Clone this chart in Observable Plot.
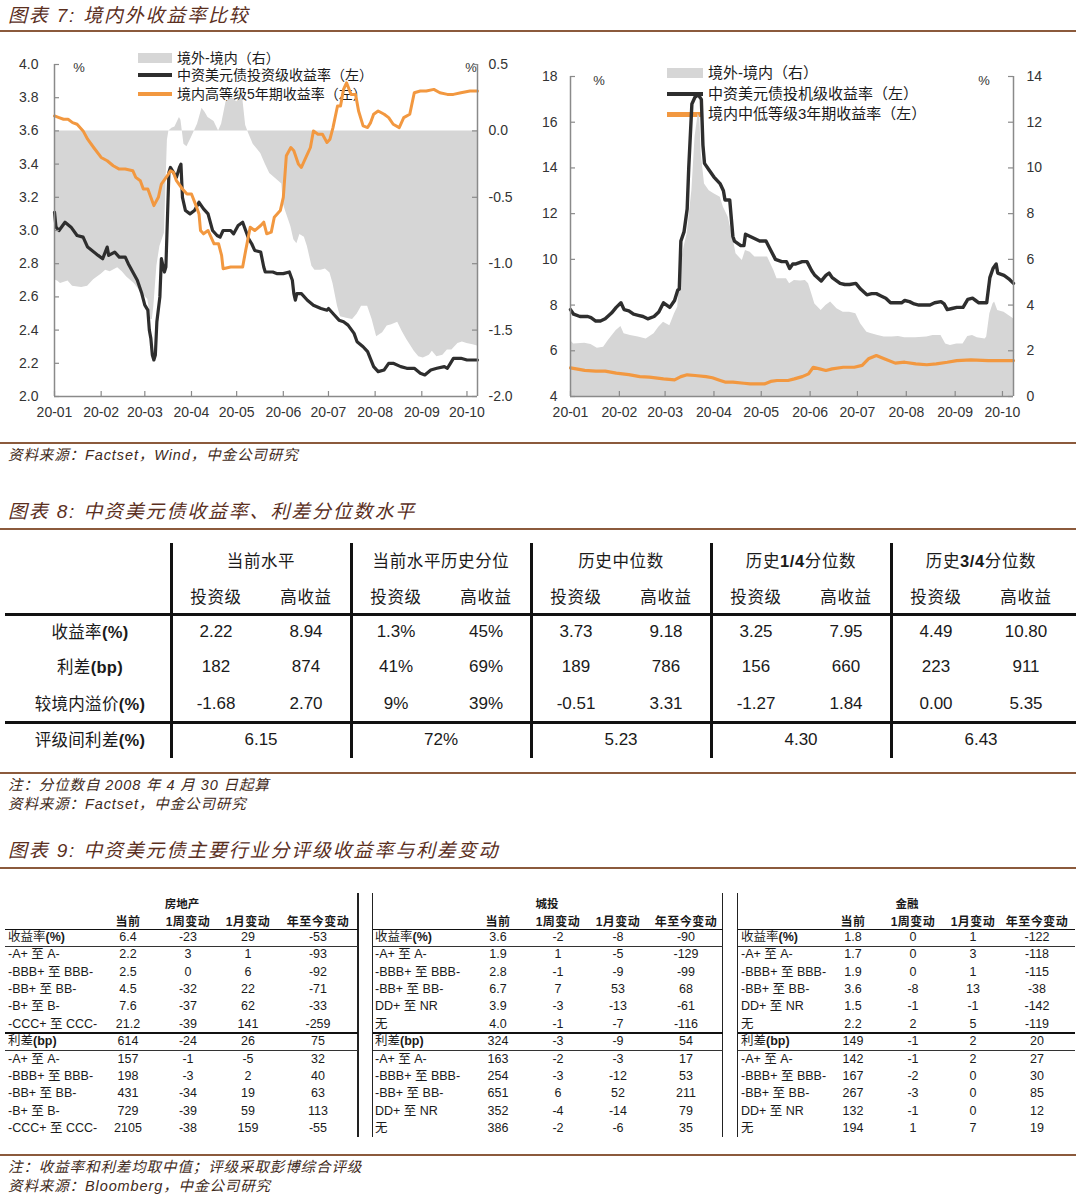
<!DOCTYPE html>
<html lang="zh">
<head>
<meta charset="utf-8">
<script src="https://cdn.jsdelivr.net/npm/d3@7"></script>
<script src="https://cdn.jsdelivr.net/npm/@observablehq/plot@0.6"></script>
<style>
html,body{margin:0;padding:0;background:#fff;}
#page{position:relative;width:1080px;height:1201px;overflow:hidden;background:#fff;font-family:"Liberation Sans",Arial,"Noto Sans CJK SC",sans-serif;color:#1a1a1a;}
.t{position:absolute;white-space:nowrap;}
.r{position:absolute;}
.chart{position:absolute;}
</style>
</head>
<body>
<div id="page"></div>
<script>
// ---------------- DATA ----------------
// Chart 7 (left): 中资美元债投资级收益率 (left axis, %)
const usdIgYield = [["2020-01-01",3.11],["2020-01-02",3.02],["2020-01-04",3.00],["2020-01-08",3.05],["2020-01-12",3.02],["2020-01-16",2.97],["2020-01-20",2.96],["2020-01-23",2.90],["2020-01-30",2.85],["2020-02-02",2.83],["2020-02-05",2.90],["2020-02-06",2.85],["2020-02-10",2.87],["2020-02-13",2.84],["2020-02-17",2.84],["2020-02-19",2.80],["2020-02-25",2.70],["2020-02-28",2.62],["2020-03-01",2.55],["2020-03-03",2.52],["2020-03-04",2.40],["2020-03-05",2.35],["2020-03-06",2.25],["2020-03-07",2.22],["2020-03-08",2.25],["2020-03-09",2.45],["2020-03-11",2.60],["2020-03-12",2.83],["2020-03-14",2.75],["2020-03-15",2.78],["2020-03-17",3.35],["2020-03-18",3.38],["2020-03-20",3.35],["2020-03-22",3.32],["2020-03-24",3.38],["2020-03-25",3.40],["2020-03-26",3.20],["2020-03-28",3.12],["2020-03-31",3.10],["2020-04-03",3.12],["2020-04-06",3.17],["2020-04-09",3.13],["2020-04-12",3.10],["2020-04-15",3.00],["2020-04-18",2.97],["2020-04-20",2.96],["2020-04-22",3.00],["2020-04-27",3.00],["2020-04-29",2.98],["2020-05-02",3.03],["2020-05-05",3.05],["2020-05-07",3.00],["2020-05-09",2.95],["2020-05-11",2.92],["2020-05-13",2.88],["2020-05-17",2.87],["2020-05-19",2.78],["2020-05-20",2.75],["2020-05-25",2.75],["2020-05-28",2.74],["2020-06-01",2.74],["2020-06-05",2.75],["2020-06-07",2.70],["2020-06-08",2.62],["2020-06-09",2.58],["2020-06-10",2.62],["2020-06-13",2.62],["2020-06-17",2.58],["2020-06-21",2.55],["2020-06-26",2.53],["2020-06-30",2.52],["2020-07-01",2.53],["2020-07-04",2.50],["2020-07-08",2.46],["2020-07-11",2.45],["2020-07-14",2.43],["2020-07-18",2.38],["2020-07-20",2.33],["2020-07-24",2.30],["2020-07-27",2.27],["2020-07-31",2.18],["2020-08-03",2.15],["2020-08-07",2.16],["2020-08-10",2.20],["2020-08-13",2.20],["2020-08-18",2.18],["2020-08-22",2.17],["2020-08-27",2.17],["2020-08-31",2.14],["2020-09-03",2.13],["2020-09-07",2.16],["2020-09-11",2.17],["2020-09-16",2.18],["2020-09-18",2.17],["2020-09-20",2.20],["2020-09-22",2.23],["2020-09-27",2.23],["2020-10-01",2.22],["2020-10-08",2.22]];
// 境内高等级5年期收益率 (left axis, %)
const cnHighGrade5y = [["2020-01-01",3.69],["2020-01-04",3.68],["2020-01-07",3.67],["2020-01-10",3.67],["2020-01-13",3.65],["2020-01-16",3.64],["2020-01-20",3.60],["2020-01-23",3.55],["2020-01-27",3.50],["2020-02-01",3.44],["2020-02-05",3.42],["2020-02-09",3.39],["2020-02-13",3.37],["2020-02-17",3.37],["2020-02-22",3.36],["2020-02-24",3.32],["2020-02-27",3.30],["2020-02-29",3.25],["2020-03-03",3.25],["2020-03-05",3.20],["2020-03-07",3.15],["2020-03-10",3.20],["2020-03-12",3.28],["2020-03-16",3.33],["2020-03-18",3.36],["2020-03-20",3.35],["2020-03-22",3.30],["2020-03-26",3.25],["2020-03-29",3.22],["2020-04-01",3.22],["2020-04-04",3.15],["2020-04-06",3.10],["2020-04-07",3.00],["2020-04-09",2.98],["2020-04-12",3.00],["2020-04-16",2.92],["2020-04-19",2.92],["2020-04-21",2.85],["2020-04-22",2.77],["2020-04-27",2.78],["2020-05-01",2.78],["2020-05-05",2.78],["2020-05-07",2.88],["2020-05-10",3.02],["2020-05-13",3.00],["2020-05-17",3.03],["2020-05-19",3.05],["2020-05-21",2.98],["2020-05-24",2.99],["2020-05-26",3.08],["2020-05-30",3.12],["2020-06-01",3.20],["2020-06-03",3.45],["2020-06-06",3.50],["2020-06-08",3.48],["2020-06-11",3.40],["2020-06-13",3.38],["2020-06-16",3.44],["2020-06-19",3.50],["2020-06-21",3.60],["2020-06-24",3.58],["2020-06-27",3.58],["2020-06-30",3.53],["2020-07-02",3.55],["2020-07-04",3.62],["2020-07-07",3.75],["2020-07-09",3.75],["2020-07-11",3.85],["2020-07-13",3.89],["2020-07-16",3.82],["2020-07-19",3.82],["2020-07-21",3.72],["2020-07-24",3.63],["2020-07-27",3.62],["2020-07-29",3.65],["2020-07-31",3.70],["2020-08-03",3.72],["2020-08-07",3.70],["2020-08-10",3.68],["2020-08-13",3.64],["2020-08-17",3.62],["2020-08-20",3.68],["2020-08-24",3.70],["2020-08-27",3.83],["2020-08-31",3.84],["2020-09-04",3.84],["2020-09-09",3.85],["2020-09-13",3.83],["2020-09-18",3.82],["2020-09-22",3.82],["2020-09-27",3.83],["2020-10-03",3.84],["2020-10-08",3.84]];
// 境外-境内 (right axis, %)
const igGap = [["2020-01-01",-1.12],["2020-01-03",-1.13],["2020-01-05",-1.15],["2020-01-10",-1.13],["2020-01-13",-1.17],["2020-01-19",-1.18],["2020-01-23",-1.17],["2020-01-27",-1.12],["2020-02-01",-1.08],["2020-02-04",-1.05],["2020-02-07",-1.06],["2020-02-12",-1.03],["2020-02-15",-1.06],["2020-02-18",-1.10],["2020-02-23",-1.15],["2020-02-27",-1.21],["2020-03-03",-1.27],["2020-03-05",-1.42],["2020-03-06",-1.42],["2020-03-07",-1.32],["2020-03-09",-1.02],["2020-03-11",-0.87],["2020-03-14",-0.77],["2020-03-16",-0.07],["2020-03-17",0.00],["2020-03-19",0.02],["2020-03-21",0.03],["2020-03-24",0.10],["2020-03-25",0.08],["2020-03-27",-0.10],["2020-03-29",-0.12],["2020-04-01",-0.05],["2020-04-05",0.05],["2020-04-08",0.17],["2020-04-10",0.14],["2020-04-12",0.10],["2020-04-16",0.07],["2020-04-19",0.00],["2020-04-21",0.05],["2020-04-24",0.22],["2020-04-28",0.25],["2020-05-01",0.22],["2020-05-05",0.25],["2020-05-07",0.04],["2020-05-09",-0.02],["2020-05-12",-0.10],["2020-05-17",-0.17],["2020-05-20",-0.25],["2020-05-23",-0.32],["2020-05-28",-0.37],["2020-05-31",-0.40],["2020-06-01",-0.55],["2020-06-03",-0.62],["2020-06-06",-0.72],["2020-06-08",-0.82],["2020-06-10",-0.85],["2020-06-12",-0.78],["2020-06-15",-0.80],["2020-06-17",-0.87],["2020-06-20",-1.02],["2020-06-22",-1.05],["2020-06-26",-1.05],["2020-06-29",-1.04],["2020-07-02",-1.07],["2020-07-04",-1.15],["2020-07-07",-1.32],["2020-07-09",-1.40],["2020-07-13",-1.41],["2020-07-17",-1.42],["2020-07-20",-1.38],["2020-07-23",-1.32],["2020-07-27",-1.32],["2020-07-30",-1.42],["2020-08-02",-1.55],["2020-08-06",-1.52],["2020-08-09",-1.47],["2020-08-12",-1.46],["2020-08-16",-1.44],["2020-08-19",-1.51],["2020-08-22",-1.57],["2020-08-27",-1.66],["2020-08-30",-1.70],["2020-09-02",-1.71],["2020-09-06",-1.69],["2020-09-08",-1.66],["2020-09-11",-1.70],["2020-09-15",-1.69],["2020-09-18",-1.65],["2020-09-21",-1.65],["2020-09-25",-1.60],["2020-09-28",-1.59],["2020-10-01",-1.60],["2020-10-05",-1.61],["2020-10-08",-1.62]];

// Chart 7 (right): 中资美元债投机级收益率 (left axis, %)
const usdHyYield = [["2020-01-01",7.8],["2020-01-03",7.6],["2020-01-07",7.5],["2020-01-12",7.5],["2020-01-14",7.45],["2020-01-17",7.3],["2020-01-20",7.3],["2020-01-23",7.4],["2020-01-27",7.65],["2020-01-30",7.9],["2020-02-02",8.1],["2020-02-04",7.8],["2020-02-07",7.75],["2020-02-10",7.6],["2020-02-13",7.55],["2020-02-16",7.5],["2020-02-19",7.4],["2020-02-23",7.5],["2020-02-26",7.7],["2020-02-29",8.1],["2020-03-02",8.0],["2020-03-04",7.9],["2020-03-07",8.2],["2020-03-09",8.65],["2020-03-10",8.7],["2020-03-11",10.8],["2020-03-13",11.2],["2020-03-15",12.2],["2020-03-16",14.0],["2020-03-18",16.8],["2020-03-20",17.1],["2020-03-22",17.2],["2020-03-24",17.0],["2020-03-25",15.0],["2020-03-26",14.2],["2020-03-29",13.9],["2020-04-01",13.6],["2020-04-05",13.3],["2020-04-07",13.0],["2020-04-08",12.6],["2020-04-11",12.6],["2020-04-13",11.0],["2020-04-14",10.8],["2020-04-18",10.6],["2020-04-20",10.6],["2020-04-21",11.1],["2020-04-24",11.0],["2020-04-27",10.9],["2020-04-30",10.8],["2020-05-04",10.8],["2020-05-07",10.4],["2020-05-10",10.0],["2020-05-14",9.9],["2020-05-17",9.9],["2020-05-19",9.6],["2020-05-21",9.8],["2020-05-23",9.8],["2020-05-27",9.9],["2020-05-30",9.9],["2020-06-02",9.5],["2020-06-04",9.3],["2020-06-08",9.05],["2020-06-11",9.3],["2020-06-13",9.4],["2020-06-15",9.2],["2020-06-20",8.95],["2020-06-23",8.9],["2020-06-26",8.9],["2020-06-30",8.95],["2020-07-03",8.7],["2020-07-07",8.45],["2020-07-10",8.5],["2020-07-13",8.5],["2020-07-16",8.4],["2020-07-19",8.3],["2020-07-22",8.1],["2020-07-26",8.1],["2020-07-29",8.1],["2020-07-31",8.2],["2020-08-03",8.15],["2020-08-06",8.05],["2020-08-09",8.0],["2020-08-13",8.0],["2020-08-16",8.0],["2020-08-19",8.1],["2020-08-23",8.15],["2020-08-25",8.05],["2020-08-27",7.8],["2020-08-30",7.85],["2020-09-02",7.9],["2020-09-06",7.9],["2020-09-09",8.25],["2020-09-12",8.3],["2020-09-14",8.2],["2020-09-16",8.1],["2020-09-21",8.1],["2020-09-23",9.2],["2020-09-25",9.6],["2020-09-27",9.8],["2020-09-28",9.4],["2020-10-02",9.3],["2020-10-05",9.15],["2020-10-08",8.95]];
// 境内中低等级3年期收益率 (left axis, %)
const cnLowGrade3y = [["2020-01-01",5.25],["2020-01-10",5.14],["2020-01-17",5.11],["2020-01-23",5.11],["2020-01-30",5.02],["2020-02-07",4.96],["2020-02-14",4.87],["2020-02-20",4.85],["2020-02-29",4.77],["2020-03-07",4.73],["2020-03-11",4.87],["2020-03-15",4.95],["2020-03-20",4.92],["2020-03-27",4.87],["2020-03-31",4.82],["2020-04-05",4.70],["2020-04-08",4.63],["2020-04-13",4.63],["2020-04-20",4.58],["2020-04-24",4.55],["2020-05-03",4.55],["2020-05-07",4.66],["2020-05-11",4.70],["2020-05-18",4.70],["2020-05-22",4.77],["2020-05-27",4.87],["2020-05-31",4.99],["2020-06-03",5.28],["2020-06-07",5.21],["2020-06-11",5.14],["2020-06-15",5.21],["2020-06-22",5.28],["2020-06-29",5.28],["2020-07-04",5.36],["2020-07-08",5.65],["2020-07-13",5.79],["2020-07-18",5.65],["2020-07-25",5.46],["2020-07-31",5.50],["2020-08-07",5.43],["2020-08-14",5.39],["2020-08-20",5.43],["2020-08-27",5.50],["2020-09-02",5.57],["2020-09-11",5.60],["2020-09-22",5.57],["2020-10-08",5.57]];
// 境外-境内 (right axis, %)
const hyGap = [["2020-01-01",2.45],["2020-01-03",2.30],["2020-01-10",2.33],["2020-01-14",2.27],["2020-01-18",2.11],["2020-01-22",2.16],["2020-01-25",2.45],["2020-01-30",2.89],["2020-02-02",3.06],["2020-02-04",2.74],["2020-02-08",2.67],["2020-02-13",2.60],["2020-02-18",2.52],["2020-02-23",2.74],["2020-02-26",3.03],["2020-02-29",3.25],["2020-03-04",3.10],["2020-03-07",3.62],["2020-03-09",3.91],["2020-03-11",5.80],["2020-03-13",6.53],["2020-03-15",7.12],["2020-03-18",9.01],["2020-03-20",11.35],["2020-03-22",12.37],["2020-03-23",12.20],["2020-03-24",10.60],["2020-03-26",9.30],["2020-03-29",9.00],["2020-04-01",8.87],["2020-04-05",8.72],["2020-04-07",8.28],["2020-04-10",7.85],["2020-04-11",7.56],["2020-04-13",6.97],["2020-04-15",6.24],["2020-04-19",5.95],["2020-04-21",6.39],["2020-04-24",6.31],["2020-04-27",6.10],["2020-05-01",6.10],["2020-05-05",6.10],["2020-05-09",5.51],["2020-05-11",5.15],["2020-05-15",5.15],["2020-05-17",5.15],["2020-05-19",4.93],["2020-05-22",5.08],["2020-05-26",5.05],["2020-05-29",5.08],["2020-05-31",4.93],["2020-06-02",4.49],["2020-06-04",4.05],["2020-06-08",3.76],["2020-06-11",3.98],["2020-06-14",4.13],["2020-06-18",3.84],["2020-06-22",3.69],["2020-06-26",3.69],["2020-06-30",3.62],["2020-07-03",3.18],["2020-07-07",2.81],["2020-07-10",2.74],["2020-07-14",2.67],["2020-07-18",2.60],["2020-07-23",2.60],["2020-07-27",2.63],["2020-07-31",2.57],["2020-08-07",2.57],["2020-08-14",2.60],["2020-08-18",2.67],["2020-08-23",2.67],["2020-08-26",2.30],["2020-08-29",2.23],["2020-09-02",2.30],["2020-09-06",2.30],["2020-09-09",2.63],["2020-09-12",2.67],["2020-09-15",2.57],["2020-09-20",2.52],["2020-09-21",2.60],["2020-09-23",3.62],["2020-09-25",4.05],["2020-09-26",4.13],["2020-09-28",3.76],["2020-10-02",3.69],["2020-10-05",3.54],["2020-10-08",3.40]];

// axis tick values
const leftAxis1 = [2.0,2.2,2.4,2.6,2.8,3.0,3.2,3.4,3.6,3.8,4.0];
const rightAxis1 = [-2.0,-1.5,-1.0,-0.5,0.0,0.5];
const leftAxis2 = [4,6,8,10,12,14,16,18];
const rightAxis2 = [0,2,4,6,8,10,12,14];
const legend1 = ["境外-境内（右）","中资美元债投资级收益率（左）","境内高等级5年期收益率（左）"];
const legend2 = ["境外-境内（右）","中资美元债投机级收益率（左）","境内中低等级3年期收益率（左）"];

// texts
const titles = ["图表 7:  境内外收益率比较","图表 8:  中资美元债收益率、利差分位数水平","图表 9:  中资美元债主要行业分评级收益率与利差变动"];
const notes7 = ["资料来源：Factset，Wind，中金公司研究"];
const notes8 = ["注：分位数自 2008 年 4 月 30 日起算","资料来源：Factset，中金公司研究"];
const notes9 = ["注：收益率和利差均取中值；评级采取彭博综合评级","资料来源：Bloomberg，中金公司研究"];

// Table 8
const t8Groups = ["当前水平","当前水平历史分位","历史中位数","历史1/4分位数","历史3/4分位数"];
const t8Sub = ["投资级","高收益"];
const t8Rows = ["收益率(%)","利差(bp)","较境内溢价(%)"];
const t8Values = [
  ["2.22","8.94","1.3%","45%","3.73","9.18","3.25","7.95","4.49","10.80"],
  ["182","874","41%","69%","189","786","156","660","223","911"],
  ["-1.68","2.70","9%","39%","-0.51","3.31","-1.27","1.84","0.00","5.35"]];
const t8SpreadLabel = "评级间利差(%)";
const t8Spread = ["6.15","72%","5.23","4.30","6.43"];

// Table 9
const t9Sectors = ["房地产","城投","金融"];
const t9Cols = ["当前","1周变动","1月变动","年至今变动"];
const t9LabelsA = ["收益率(%)","-A+ 至 A-","-BBB+ 至 BBB-","-BB+ 至 BB-","-B+ 至 B-","-CCC+ 至 CCC-","利差(bp)","-A+ 至 A-","-BBB+ 至 BBB-","-BB+ 至 BB-","-B+ 至 B-","-CCC+ 至 CCC-"];
const t9LabelsB = ["收益率(%)","-A+ 至 A-","-BBB+ 至 BBB-","-BB+ 至 BB-","DD+ 至 NR","无","利差(bp)","-A+ 至 A-","-BBB+ 至 BBB-","-BB+ 至 BB-","DD+ 至 NR","无"];
const t9RealEstate = [["6.4","-23","29","-53"],["2.2","3","1","-93"],["2.5","0","6","-92"],["4.5","-32","22","-71"],["7.6","-37","62","-33"],["21.2","-39","141","-259"],["614","-24","26","75"],["157","-1","-5","32"],["198","-3","2","40"],["431","-34","19","63"],["729","-39","59","113"],["2105","-38","159","-55"]];
const t9LGFV = [["3.6","-2","-8","-90"],["1.9","1","-5","-129"],["2.8","-1","-9","-99"],["6.7","7","53","68"],["3.9","-3","-13","-61"],["4.0","-1","-7","-116"],["324","-3","-9","54"],["163","-2","-3","17"],["254","-3","-12","53"],["651","6","52","211"],["352","-4","-14","79"],["386","-2","-6","35"]];
const t9Financial = [["1.8","0","1","-122"],["1.7","0","3","-118"],["1.9","0","1","-115"],["3.6","-8","13","-38"],["1.5","-1","-1","-142"],["2.2","2","5","-119"],["149","-1","2","20"],["142","-1","2","27"],["167","-2","0","30"],["267","-3","0","85"],["132","-1","0","12"],["194","1","7","19"]];

// ---------------- HELPERS ----------------
const page = document.getElementById("page");
function put(html, x, y, o = {}) {
  const size = o.size || 14;
  const el = document.createElement("div");
  el.className = "t";
  el.innerHTML = html;
  Object.assign(el.style, {
    left: x + "px", top: (y - size) + "px", lineHeight: (2 * size) + "px", fontSize: size + "px",
    fontWeight: o.weight || "normal", fontStyle: o.italic ? "italic" : "normal",
    color: o.color || "#1a1a1a", letterSpacing: (o.ls || 0) + "px"
  });
  if (o.anchor === "middle") el.style.transform = "translateX(-50%)";
  if (o.anchor === "end") el.style.transform = "translateX(-100%)";
  page.appendChild(el);
  return el;
}
function box(x, y, w, h, c) {
  const el = document.createElement("div");
  el.className = "r";
  Object.assign(el.style, {left: x + "px", top: y + "px", width: w + "px", height: h + "px", background: c});
  page.appendChild(el);
}
const bA = s => s.replace(/[!-~]+/g, m => "<b>" + m + "</b>");
const BROWN = "#8b5a3c", TITLE = "#5b2f1e", NOTE = "#3f2a20";
const GRAY = "#d6d6d6", BLACK = "#2e2e2e", ORANGE = "#f29840", AX = "#8a8a8a";

// ---------------- HEADINGS / NOTES ----------------
function heading(text, yc, ry) {
  put(text, 8, yc, {size: 19, italic: true, color: TITLE, ls: 1.8});
  box(0, ry, 1076, 2, BROWN);
}
heading(titles[0], 16, 30);
heading(titles[1], 512, 528);
heading(titles[2], 851, 867);
const noteOpt = {size: 14.5, italic: true, color: NOTE, ls: 0.9};
box(0, 442, 1076, 2, BROWN);
put(notes7[0], 8, 455, noteOpt);
box(0, 772, 1076, 2, BROWN);
put(notes8[0], 8, 785, noteOpt);
put(notes8[1], 8, 804, noteOpt);
box(0, 1154, 1076, 2, BROWN);
put(notes9[0], 8, 1167, noteOpt);
put(notes9[1], 8, 1186, noteOpt);

// ---------------- LEGENDS (under the charts) ----------------
box(138, 53, 34, 10, GRAY); put(legend1[0], 177, 58, {size: 14});
box(138, 73, 34, 4, BLACK); put(legend1[1], 177, 75, {size: 14});
box(138, 92, 34, 4, ORANGE); put(legend1[2], 177, 94, {size: 14});
put("%", 79, 68, {size: 13, anchor: "middle", color: "#333"});
put("%", 471, 68, {size: 13, anchor: "middle", color: "#333"});

box(667, 68, 36, 10, GRAY); put(legend2[0], 708, 73, {size: 15});
box(667, 91.5, 36, 4.5, BLACK); put(legend2[1], 708, 94, {size: 15});
box(667, 112, 36, 4.5, ORANGE); put(legend2[2], 708, 114, {size: 15});
put("%", 599, 81, {size: 13, anchor: "middle", color: "#333"});
put("%", 984, 81, {size: 13, anchor: "middle", color: "#333"});

// ---------------- CHARTS ----------------
const parse = d3.utcParse("%Y-%m-%d");
const X0 = parse("2020-01-01"), X1 = parse("2020-10-08");
const months = d3.utcMonths(X0, parse("2020-10-02"));
const fmtMonth = d3.utcFormat("%y-%m");
const xs = d => parse(d[0]);
const chartStyle = {background: "transparent", fontFamily: '"Liberation Sans", Arial, sans-serif', fontSize: "14px", color: "#333", overflow: "visible"};

function place(svg, left, top) {
  const d = document.createElement("div");
  d.className = "chart";
  d.style.left = left + "px"; d.style.top = top + "px";
  d.appendChild(svg);
  page.appendChild(d);
}

// Left chart
{
  const W = 540, H = 390, ml = 54, mr = 63, mt = 24, mb = 34;
  const pw = W - ml - mr, ph = H - mt - mb;
  const toL = v => 3.6 + v * 0.8;
  const fromL = v => (v - 3.6) / 0.8;
  const svg = Plot.plot({
    width: W, height: H, marginLeft: ml, marginRight: mr, marginTop: mt, marginBottom: mb,
    style: chartStyle,
    x: {type: "utc", domain: [X0, X1]},
    y: {domain: [2, 4]},
    marks: [
      Plot.areaY(igGap, {x: xs, y1: () => 3.6, y2: d => toL(d[1]), fill: GRAY}),
      Plot.lineY(usdIgYield, {x: xs, y: d => d[1], stroke: BLACK, strokeWidth: 3.2}),
      Plot.lineY(cnHighGrade5y, {x: xs, y: d => d[1], stroke: ORANGE, strokeWidth: 3}),
      Plot.ruleX([X0, X1], {stroke: AX, strokeWidth: 1.5}),
      Plot.ruleY([2], {stroke: AX, strokeWidth: 1.5}),
      Plot.tickY(leftAxis1, {y: d => d, stroke: AX, strokeWidth: 1.2, insetRight: pw - 5}),
      Plot.tickY(rightAxis1.map(toL), {y: d => d, stroke: AX, strokeWidth: 1.2, insetLeft: pw - 5}),
      Plot.tickX(months, {x: d => d, stroke: AX, strokeWidth: 1.2, insetTop: ph - 5}),
      Plot.axisY({ticks: leftAxis1, tickFormat: d => d.toFixed(1), tickSize: 0, tickPadding: 16, label: null}),
      Plot.axisY({anchor: "right", ticks: rightAxis1.map(toL), tickFormat: d => fromL(d).toFixed(1), tickSize: 0, tickPadding: 11, label: null}),
      Plot.axisX({ticks: months, tickFormat: fmtMonth, tickSize: 0, tickPadding: 11, label: null})
    ]
  });
  place(svg, 0, 40);
}

// Right chart
{
  const W = 540, H = 390, ml = 30, mr = 67, mt = 36, mb = 34;
  const pw = W - ml - mr, ph = H - mt - mb;
  const toL = v => v + 4;
  const svg = Plot.plot({
    width: W, height: H, marginLeft: ml, marginRight: mr, marginTop: mt, marginBottom: mb,
    style: chartStyle,
    x: {type: "utc", domain: [X0, X1]},
    y: {domain: [4, 18]},
    marks: [
      Plot.areaY(hyGap, {x: xs, y1: () => 4, y2: d => toL(d[1]), fill: GRAY}),
      Plot.lineY(cnLowGrade3y, {x: xs, y: d => d[1], stroke: ORANGE, strokeWidth: 3.2}),
      Plot.lineY(usdHyYield, {x: xs, y: d => d[1], stroke: BLACK, strokeWidth: 3.4}),
      Plot.ruleX([X0, X1], {stroke: AX, strokeWidth: 1.5}),
      Plot.ruleY([4], {stroke: AX, strokeWidth: 1.5}),
      Plot.tickY(leftAxis2, {y: d => d, stroke: AX, strokeWidth: 1.2, insetRight: pw - 5}),
      Plot.tickY(rightAxis2.map(toL), {y: d => d, stroke: AX, strokeWidth: 1.2, insetLeft: pw - 5}),
      Plot.tickX(months, {x: d => d, stroke: AX, strokeWidth: 1.2, insetTop: ph - 5}),
      Plot.axisY({ticks: leftAxis2, tickFormat: d => String(d), tickSize: 0, tickPadding: 13, label: null}),
      Plot.axisY({anchor: "right", ticks: rightAxis2.map(toL), tickFormat: d => String(Math.round(d - 4)), tickSize: 0, tickPadding: 13, label: null}),
      Plot.axisX({ticks: months, tickFormat: fmtMonth, tickSize: 0, tickPadding: 11, label: null})
    ]
  });
  place(svg, 540, 40);
}

// ---------------- TABLE 8 ----------------
{
  const gx0 = 171, gw = 180;
  const rowsY = [632, 667, 704];
  for (let i = 0; i < 5; i++) box(gx0 + i * gw - 1.5, 543, 3, 215, "#111");
  box(5, 612.5, 1071, 3, "#111");
  box(5, 720.5, 1071, 3, "#111");
  t8Groups.forEach((g, i) => {
    put(bA(g), gx0 + i * gw + 90, 561, {anchor: "middle", size: 16.5, ls: 0.6});
    t8Sub.forEach((s, j) => put(s, gx0 + i * gw + 45 + j * 90, 597, {anchor: "middle", size: 16.5, ls: 0.6}));
  });
  t8Rows.forEach((r, ri) => {
    put(bA(r), 90, rowsY[ri], {anchor: "middle", size: 16.5, ls: 0.3});
    t8Values[ri].forEach((v, ci) => put(v, gx0 + ci * 90 + 45, rowsY[ri], {anchor: "middle", size: 17}));
  });
  put(bA(t8SpreadLabel), 90, 740, {anchor: "middle", size: 16.5, ls: 0.3});
  t8Spread.forEach((v, i) => put(v, gx0 + i * gw + 90, 740, {anchor: "middle", size: 17}));
}

// ---------------- TABLE 9 ----------------
{
  const panels = [
    {x0: 5, x1: 358, cols: [128, 188, 248, 318], lx: 8, title: 182, labels: t9LabelsA, values: t9RealEstate},
    {x0: 372.5, x1: 722.5, cols: [498, 558, 618, 686], lx: 375, title: 547, labels: t9LabelsB, values: t9LGFV},
    {x0: 737.5, x1: 1075, cols: [853, 913, 973, 1037], lx: 741, title: 907, labels: t9LabelsB, values: t9Financial}
  ];
  [358, 372.5, 722.5, 737.5].forEach(x => box(x - 0.75, 893, 1.5, 244, "#222"));
  const rowY = i => 937.5 + i * 17.36;
  panels.forEach((p, pi) => {
    const w = p.x1 - p.x0;
    box(p.x0, 928.5, w, 1.6, "#111");
    box(p.x0, 945.5, w, 1, "#333");
    box(p.x0, 1032, w, 1.6, "#111");
    box(p.x0, 1049.5, w, 1, "#333");
    put(t9Sectors[pi], p.title, 904, {anchor: "middle", size: 11.5, weight: "bold"});
    t9Cols.forEach((c, ci) => put(c, p.cols[ci], 921.5, {anchor: "middle", size: 12, weight: "bold", ls: 0.5}));
    p.labels.forEach((lab, ri) => {
      const head = (ri === 0 || ri === 6);
      put(head ? bA(lab) : lab, p.lx, rowY(ri), {size: 12.5});
      p.values[ri].forEach((v, ci) => put(v, p.cols[ci], rowY(ri), {anchor: "middle", size: 12.5}));
    });
  });
}
</script>
</body>
</html>
